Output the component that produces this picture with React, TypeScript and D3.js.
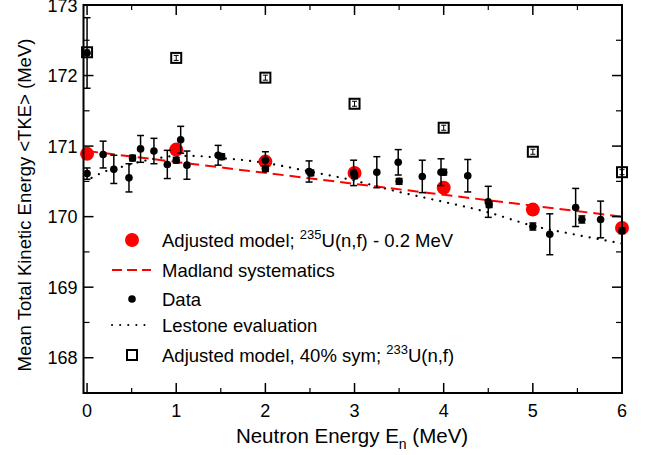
import React from "react";
import * as d3 from "d3";

const W = 645, H = 455;
const M = { left: 83.5, right: 622, top: 5, bottom: 393 };

// Adjusted model; 235U(n,f) - 0.2 MeV
const modelE = [0, 1, 2, 3, 4, 5, 6];
const modelTKE = [170.89, 170.95, 170.78, 170.62, 170.41, 170.1, 169.84];

// Madland systematics
const madlandE = [0, 6];
const madlandTKE = [170.93, 170.0];

// Lestone evaluation
const lestoneE = [0.05, 0.2, 0.4, 0.6, 0.8, 1.0, 1.2, 1.5, 1.9, 2.5, 3.0, 3.5, 4.0, 4.5, 5.0, 5.5, 6.0];
const lestoneTKE = [170.55, 170.64, 170.71, 170.78, 170.83, 170.86, 170.86, 170.83, 170.78, 170.64, 170.51, 170.35, 170.21, 170.06, 169.87, 169.74, 169.62];

// Data
const dataE = [0.0, 0.0, 0.18, 0.3, 0.47, 0.51, 0.6, 0.75, 0.9, 1.0, 1.05, 1.12, 1.47, 1.51, 2.0, 2.0, 2.49, 2.51, 2.99, 3.0, 3.25, 3.49, 3.5, 3.76, 3.97, 4.0, 4.27, 4.5, 4.51, 5.0, 5.19, 5.48, 5.55, 5.76, 6.0];
const dataTKE = [172.32, 170.61, 170.88, 170.67, 170.55, 170.83, 170.96, 170.93, 170.74, 170.8, 171.09, 170.73, 170.87, 170.85, 170.8, 170.68, 170.64, 170.62, 170.62, 170.58, 170.63, 170.77, 170.5, 170.57, 170.63, 170.63, 170.58, 170.21, 170.17, 169.86, 169.75, 170.13, 169.96, 169.96, 169.8];
const dataErr = [0.5, 0.08, 0.19, 0.2, 0.2, 0.04, 0.19, 0.18, 0.2, 0.04, 0.19, 0.2, 0.14, 0.04, 0.12, 0.04, 0.15, 0.04, 0.18, 0.04, 0.22, 0.18, 0.04, 0.23, 0.19, 0.04, 0.23, 0.22, 0.04, 0.05, 0.29, 0.27, 0.05, 0.26, 0.04];

// Adjusted model, 40% sym; 233U(n,f)
const symE = [0, 1, 2, 3, 4, 5, 6];
const symTKE = [172.33, 172.25, 171.97, 171.6, 171.26, 170.92, 170.63];

const xMajor = [0, 1, 2, 3, 4, 5, 6];
const xMinor = [0.5, 1.5, 2.5, 3.5, 4.5, 5.5];
const yMajor = [168, 169, 170, 171, 172, 173];
const yMinor = [167.5, 168.5, 169.5, 170.5, 171.5, 172.5];

export default function App() {
  const x = d3.scaleLinear().domain([-0.04, 6]).range([M.left, M.right]);
  const y = d3.scaleLinear().domain([167.5, 173]).range([M.bottom, M.top]);
  const font = "'Liberation Sans', Arial, sans-serif";

  const madlandLine = d3.line<number>().x((d, i) => x(madlandE[i])).y((d) => y(d))(madlandTKE) || "";
  const lestoneLine = d3.line<number>().curve(d3.curveMonotoneX).x((d, i) => x(lestoneE[i])).y((d) => y(d))(lestoneTKE) || "";

  const legendX = 132, textX = 162;
  const rows = [240, 270, 299, 325, 355];
  const lf = 18.5;

  return (
    <svg width={W} height={H} style={{ position: "absolute", left: 0, top: 0 }} fontFamily={font}>
      <rect width={W} height={H} fill="white" />
      {/* lines */}
      <path d={lestoneLine} fill="none" stroke="black" strokeWidth={2.2} strokeDasharray="0.1 8" strokeLinecap="round" />
      <path d={madlandLine} fill="none" stroke="#ff0000" strokeWidth={2} strokeDasharray="11 6" />
      {/* red model */}
      {modelE.map((e, i) => (
        <circle key={"m" + i} cx={x(e)} cy={y(modelTKE[i])} r={7} fill="#ff0000" />
      ))}
      {/* squares */}
      {symE.map((e, i) => (
        <g key={"s" + i}>
          <rect x={x(e) - 5} y={y(symTKE[i]) - 5} width={10} height={10} fill="white" stroke="black" strokeWidth={2} />
          <line x1={x(e)} x2={x(e)} y1={y(symTKE[i]) - 2.5} y2={y(symTKE[i]) + 2.5} stroke="black" strokeWidth={1} />
          <line x1={x(e) - 2.5} x2={x(e) + 2.5} y1={y(symTKE[i]) - 2.5} y2={y(symTKE[i]) - 2.5} stroke="black" strokeWidth={1} />
          <line x1={x(e) - 2.5} x2={x(e) + 2.5} y1={y(symTKE[i]) + 2.5} y2={y(symTKE[i]) + 2.5} stroke="black" strokeWidth={1} />
        </g>
      ))}
      {/* data */}
      {dataE.map((e, i) => {
        const cx = x(e);
        const y1 = y(dataTKE[i] + dataErr[i]);
        const y2 = y(dataTKE[i] - dataErr[i]);
        return (
          <g key={"d" + i}>
            <line x1={cx} x2={cx} y1={y1} y2={y2} stroke="black" strokeWidth={1.5} />
            <line x1={cx - 3.5} x2={cx + 3.5} y1={y1} y2={y1} stroke="black" strokeWidth={1.5} />
            <line x1={cx - 3.5} x2={cx + 3.5} y1={y2} y2={y2} stroke="black" strokeWidth={1.5} />
            <circle cx={cx} cy={y(dataTKE[i])} r={3.8} fill="black" />
          </g>
        );
      })}
      {/* frame */}
      <rect x={M.left} y={M.top} width={M.right - M.left} height={M.bottom - M.top} fill="none" stroke="black" strokeWidth={2} />
      {/* x ticks */}
      {xMajor.map((t) => (
        <g key={"xm" + t}>
          <line x1={x(t)} x2={x(t)} y1={M.bottom} y2={M.bottom - 10} stroke="black" strokeWidth={1.5} />
          <line x1={x(t)} x2={x(t)} y1={M.top} y2={M.top + 10} stroke="black" strokeWidth={1.5} />
          <text x={x(t)} y={M.bottom + 24} textAnchor="middle" fontSize={18}>{t}</text>
        </g>
      ))}
      {xMinor.map((t) => (
        <g key={"xn" + t}>
          <line x1={x(t)} x2={x(t)} y1={M.bottom} y2={M.bottom - 5} stroke="black" strokeWidth={1.2} />
          <line x1={x(t)} x2={x(t)} y1={M.top} y2={M.top + 5} stroke="black" strokeWidth={1.2} />
        </g>
      ))}
      {/* y ticks */}
      {yMajor.map((t) => (
        <g key={"ym" + t}>
          <line x1={M.left} x2={M.left + 10} y1={y(t)} y2={y(t)} stroke="black" strokeWidth={1.5} />
          <line x1={M.right} x2={M.right - 10} y1={y(t)} y2={y(t)} stroke="black" strokeWidth={1.5} />
          <text x={M.left - 6} y={y(t) + 6.5} textAnchor="end" fontSize={18}>{t}</text>
        </g>
      ))}
      {yMinor.map((t) => (
        <g key={"yn" + t}>
          <line x1={M.left} x2={M.left + 6} y1={y(t)} y2={y(t)} stroke="black" strokeWidth={1.2} />
          <line x1={M.right} x2={M.right - 6} y1={y(t)} y2={y(t)} stroke="black" strokeWidth={1.2} />
        </g>
      ))}
      {/* axis labels */}
      <text x={352} y={443} textAnchor="middle" fontSize={20.5}>
        Neutron Energy E<tspan fontSize={14} dy={6}>n</tspan><tspan dy={-6}> (MeV)</tspan>
      </text>
      <text transform={`translate(31,${(M.top + M.bottom) / 2 + 6}) rotate(-90)`} textAnchor="middle" fontSize={18.5}>
        Mean Total Kinetic Energy &lt;TKE&gt; (MeV)
      </text>
      {/* legend */}
      <circle cx={legendX} cy={rows[0]} r={7} fill="#ff0000" />
      <text x={textX} y={rows[0] + 7} fontSize={lf}>
        Adjusted model; <tspan fontSize={13} dy={-8}>235</tspan><tspan dy={8}>U(n,f) - 0.2 MeV</tspan>
      </text>
      <line x1={112} x2={151} y1={rows[1]} y2={rows[1]} stroke="#ff0000" strokeWidth={2} strokeDasharray="10 5" />
      <text x={textX} y={rows[1] + 7} fontSize={lf}>Madland systematics</text>
      <circle cx={legendX} cy={rows[2]} r={3.8} fill="black" />
      <text x={textX} y={rows[2] + 7} fontSize={lf}>Data</text>
      <line x1={112} x2={151} y1={rows[3]} y2={rows[3]} stroke="black" strokeWidth={2} strokeDasharray="0.1 8" strokeLinecap="round" />
      <text x={textX} y={rows[3] + 7} fontSize={lf}>Lestone evaluation</text>
      <rect x={legendX - 5} y={rows[4] - 5} width={10} height={10} fill="white" stroke="black" strokeWidth={2} />
      <text x={textX} y={rows[4] + 7} fontSize={lf}>
        Adjusted model, 40% sym; <tspan fontSize={13} dy={-8}>233</tspan><tspan dy={8}>U(n,f)</tspan>
      </text>
    </svg>
  );
}
